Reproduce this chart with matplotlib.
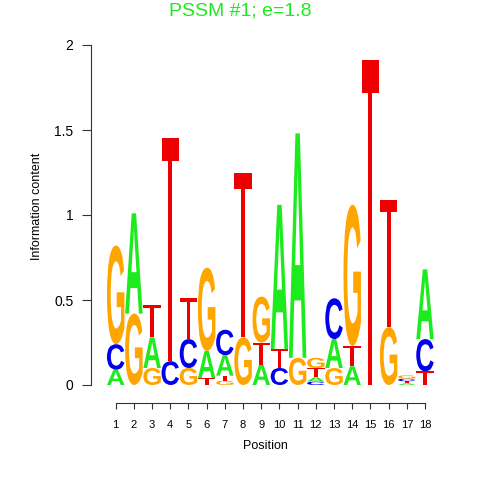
import matplotlib
matplotlib.use("Agg")
import matplotlib.pyplot as plt
from matplotlib.textpath import TextPath
from matplotlib.font_manager import FontProperties
from matplotlib.patches import PathPatch, Polygon
from matplotlib.transforms import Affine2D

plt.rcParams['font.family'] = ['Liberation Sans', 'DejaVu Sans']

# information content (bits) of each base at each position
positions = list(range(1, 19))
a_bits = [0.09, 0.59, 0.18, 0.00, 0.00, 0.16, 0.12, 0.00, 0.12, 0.85, 1.32, 0.025, 0.17, 0.11, 0.00, 0.00, 0.010, 0.41]
c_bits = [0.15, 0.00, 0.00, 0.14, 0.17, 0.00, 0.15, 0.00, 0.00, 0.10, 0.00, 0.020, 0.24, 0.00, 0.00, 0.00, 0.015, 0.19]
g_bits = [0.58, 0.42, 0.10, 0.00, 0.10, 0.49, 0.025, 0.28, 0.27, 0.00, 0.16, 0.060, 0.10, 0.83, 0.00, 0.34, 0.020, 0.00]
t_bits = [0.00, 0.00, 0.19, 1.31, 0.24, 0.04, 0.03, 0.97, 0.13, 0.11, 0.00, 0.055, 0.00, 0.12, 1.91, 0.75, 0.012, 0.08]

title = "PSSM #1; e=1.8"
colors = {'A': '#1EEB1E', 'C': '#0000EE', 'G': '#FFA500', 'T': '#EE0000'}

fp = FontProperties(family='Liberation Sans', weight='bold')


def draw_letter(ax, letter, x, y0, w, h):
    if letter == 'T':
        # thin bar on top + narrow stem, like the R logo glyph
        bar = 0.1 * h
        sw = 0.11 * w
        l, r = x - w / 2, x + w / 2
        pts = [(l, y0 + h), (r, y0 + h), (r, y0 + h - bar), (x + sw, y0 + h - bar),
               (x + sw, y0), (x - sw, y0), (x - sw, y0 + h - bar), (l, y0 + h - bar)]
        ax.add_patch(Polygon(pts, closed=True, facecolor=colors[letter],
                             edgecolor='none', clip_on=False))
        return
    path = TextPath((0, 0), letter, size=1, prop=fp)
    bb = path.get_extents()
    tr = (Affine2D().translate(-bb.x0, -bb.y0)
          .scale(w / bb.width, h / bb.height)
          .translate(x - w / 2, y0))
    patch = PathPatch(tr.transform_path(path), facecolor=colors[letter],
                      edgecolor='none', clip_on=False)
    ax.add_patch(patch)


fig = plt.figure(figsize=(4.8, 4.8), dpi=100)
ax = fig.add_axes([90.7 / 480, 77 / 480, (440 - 90.7) / 480, 358 / 480])

for i, pos in enumerate(positions):
    stack = [('A', a_bits[i]), ('C', c_bits[i]), ('G', g_bits[i]), ('T', t_bits[i])]
    stack.sort(key=lambda s: s[1])
    y = 0.0
    for letter, h in stack:
        if h > 0:
            draw_letter(ax, letter, pos, y, 0.96, h)
            y += h

ax.set_xlim(1 - 25.0 / 18.2, 18 + 15.0 / 18.2)
ax.set_ylim(-18.0 / 170, 2.0)

for s in ['top', 'right']:
    ax.spines[s].set_visible(False)
ax.spines['left'].set_bounds(0, 2)
ax.spines['bottom'].set_bounds(1, 18)
for s in ['left', 'bottom']:
    ax.spines[s].set_color('#333333')
    ax.spines[s].set_linewidth(0.8)

ax.set_xticks(positions)
ax.set_xticklabels([str(p) for p in positions])
ax.set_yticks([0, 0.5, 1, 1.5, 2])
ax.set_yticklabels(['0', '0.5', '1', '1.5', '2'])
ax.tick_params(axis='y', length=6.5, width=0.8, color='#333333', labelsize=10, pad=6)
ax.tick_params(axis='x', length=4, width=0.8, color='#333333', labelsize=8, pad=8)

fig.text(37.5 / 480, 1 - 206 / 480, 'Information content', rotation=90,
         ha='center', va='center', fontsize=9)
fig.text(0.5 * (90.7 + 440) / 480, 1 - 446 / 480, 'Position',
         ha='center', va='center', fontsize=9)
fig.text(240 / 480, 1 - 15 / 480, title, ha='center', va='baseline',
         fontsize=14, color='#1EEB1E')

fig.savefig('out.png', dpi=100)
